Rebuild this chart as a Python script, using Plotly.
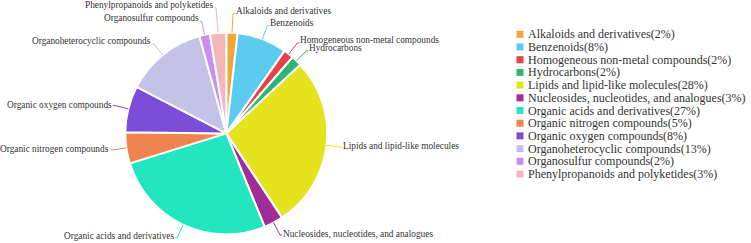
import math
import plotly.graph_objects as go

# ---------------- data ----------------
categories = [
    "Alkaloids and derivatives",
    "Benzenoids",
    "Homogeneous non-metal compounds",
    "Hydrocarbons",
    "Lipids and lipid-like molecules",
    "Nucleosides, nucleotides, and analogues",
    "Organic acids and derivatives",
    "Organic nitrogen compounds",
    "Organic oxygen compounds",
    "Organoheterocyclic compounds",
    "Organosulfur compounds",
    "Phenylpropanoids and polyketides",
]
shares = [1.8, 8.0, 1.6, 1.7, 27.6, 3.1, 26.4, 5.0, 7.4, 13.1, 1.7, 2.6]
legend_pct = [2, 8, 2, 2, 28, 3, 27, 5, 8, 13, 2, 3]

colors = [
    "#F0A73A", "#5CCBF0", "#E8404A", "#2DB574", "#E5E21E", "#A22C99",
    "#22E6C0", "#EF8450", "#7B4DD8", "#C4C2E7", "#C88EF0", "#F4B6BA",
]

# ---------------- layout constants ----------------
W, H = 751, 243
CX, CY, R = 226.3, 133.4, 101.0          # pie centre / radius in px
LEADER = 14                              # radial leader length in px
LEADER_EXTRA = {"Alkaloids and derivatives": 5,
                "Phenylpropanoids and polyketides": 11}
FONT = "Liberation Serif, Times New Roman, serif"
TEXT_COLOR = "#333333"

def px2paper(x, y):
    return x / W, 1 - y / H

fig = go.Figure()

fig.add_trace(go.Pie(
    labels=categories,
    values=shares,
    sort=False,
    direction="clockwise",
    rotation=0,
    marker=dict(colors=colors, line=dict(color="white", width=2)),
    textinfo="none",
    hoverinfo="label+percent",
    showlegend=False,
    domain=dict(x=[(CX - R) / W, (CX + R) / W],
                y=[1 - (CY + R) / H, 1 - (CY - R) / H]),
))

shapes = []
annotations = []
total = sum(shares)
cum = 0.0
for name, v, col in zip(categories, shares, colors):
    mid = math.radians(360.0 * (cum + v / 2) / total)
    cum += v
    L = LEADER + LEADER_EXTRA.get(name, 0)
    sx, sy = CX + R * math.sin(mid), CY - R * math.cos(mid)
    ex, ey = CX + (R + L) * math.sin(mid), CY - (R + L) * math.cos(mid)
    right = math.sin(mid) >= 0
    hx = ex + (2 if right else -2)
    for (a, b) in [((sx, sy), (ex, ey)), ((ex, ey), (hx, ey))]:
        x0, y0 = px2paper(*a)
        x1, y1 = px2paper(*b)
        shapes.append(dict(type="line", xref="paper", yref="paper",
                           x0=x0, y0=y0, x1=x1, y1=y1,
                           line=dict(color=col, width=1)))
    dy = -3 if math.cos(mid) > 0.3 else -1
    tx, ty = px2paper(hx, ey + dy)
    annotations.append(dict(
        x=tx, y=ty, xref="paper", yref="paper", text=name,
        showarrow=False, xanchor="left" if right else "right",
        yanchor="middle", borderpad=0,
        font=dict(family=FONT, size=9.3, color=TEXT_COLOR)))

# ---------------- legend (scatter on hidden axes) ----------------
idx = list(range(len(categories)))
LEG_TOP, LEG_PITCH = 34.3, 12.7
LEG_X = 520
fig.add_trace(go.Scatter(
    x=[LEG_X] * len(idx), y=idx, mode="markers",
    marker=dict(symbol="square", size=7, color=colors, line=dict(width=0)),
    hoverinfo="skip", showlegend=False, xaxis="x", yaxis="y"))
for i, (name, p) in enumerate(zip(categories, legend_pct)):
    annotations.append(dict(
        x=LEG_X + 7, y=i, xref="x", yref="y", text=f"{name}({p}%)",
        showarrow=False, xanchor="left", yanchor="middle", borderpad=0,
        font=dict(family=FONT, size=12, color=TEXT_COLOR)))

y_lo = -LEG_TOP / LEG_PITCH
y_hi = (H - LEG_TOP) / LEG_PITCH

fig.update_layout(
    width=W, height=H,
    margin=dict(l=0, r=0, t=0, b=0),
    paper_bgcolor="white", plot_bgcolor="rgba(0,0,0,0)",
    shapes=shapes, annotations=annotations,
    xaxis=dict(range=[0, W], domain=[0, 1], visible=False, fixedrange=True),
    yaxis=dict(range=[y_hi, y_lo], domain=[0, 1], visible=False, fixedrange=True),
    showlegend=False,
)

fig.write_html("out.html")
